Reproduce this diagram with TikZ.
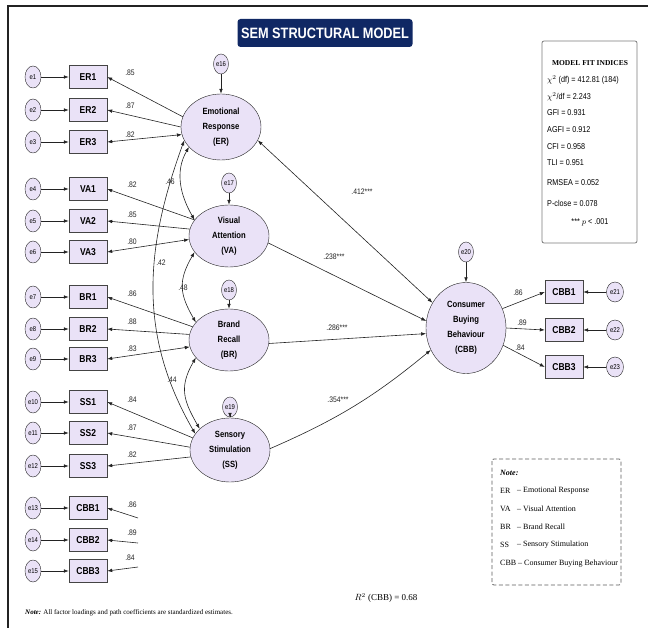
\documentclass[tikz,border=0pt]{standalone}
\usepackage{fontspec}
\setmainfont{Liberation Serif}
\newfontfamily\nsans[FakeStretch=0.85]{Liberation Sans}
\usetikzlibrary{arrows.meta,shapes.geometric}
\definecolor{lav}{RGB}{234,226,247}
\definecolor{navy}{RGB}{16,40,100}
\definecolor{ln}{RGB}{35,35,35}
\begin{document}
\begin{tikzpicture}[x=1pt,y=1pt,
  ev/.style={draw=ln, fill=lav, ellipse, minimum width=16pt, minimum height=22pt, inner sep=0pt, font=\nsans\fontsize{7}{8}\selectfont},
  evs/.style={ev, minimum width=15pt, minimum height=20pt},
  ind/.style={draw=ln!85, fill=lav, rectangle, minimum width=38pt, minimum height=23pt, inner sep=0pt, font=\nsans\bfseries\fontsize{10}{11}\selectfont},
  lat/.style={draw=ln, fill=lav, ellipse, minimum width=80pt, minimum height=62pt, inner sep=0pt, align=center, font=\nsans\bfseries\fontsize{9}{15}\selectfont},
  lbl/.style={font=\nsans\fontsize{8}{9}\selectfont, inner sep=1pt, text=ln},
  tip/.style={draw=ln, line width=0.6pt, -{Latex[length=5pt,width=3.6pt]}},
  dtip/.style={draw=ln, line width=0.6pt, {Latex[length=5pt,width=3.6pt]}-{Latex[length=5pt,width=3.6pt]}},
  fittxt/.style={anchor=west, font=\nsans\fontsize{8.5}{9}\selectfont, inner sep=0pt},
  notetxt/.style={anchor=west, font=\fontsize{8}{9}\selectfont, inner sep=0pt}
]
\useasboundingbox (0,0) rectangle (648,-628);
% frame
\draw[ln, line width=1.3pt] (648,-6) -- (8,-6) -- (8,-628);
% title
\node[fill=navy, rounded corners=3pt, minimum width=175pt, minimum height=28pt, inner sep=0pt, text=white, font=\nsans\bfseries\fontsize{15}{16}\selectfont] (title) at (325,-33) {SEM STRUCTURAL MODEL};

% latent variables
\node[lat, minimum height=66pt] (ER) at (221,-127) {Emotional\\Response\\(ER)};
\node[lat] (VA) at (229,-236) {Visual\\Attention\\(VA)};
\node[lat] (BR) at (229,-340) {Brand\\Recall\\(BR)};
\node[lat, minimum height=64pt] (SS) at (230,-450) {Sensory\\Stimulation\\(SS)};
\node[lat, minimum width=80pt, minimum height=91pt] (CBB) at (466,-328) {Consumer\\Buying\\Behaviour\\(CBB)};

% disturbances
\node[evs] (e16) at (221,-64) {e16};
\node[evs] (e17) at (229,-183) {e17};
\node[evs] (e18) at (229,-290) {e18};
\node[evs] (e19) at (230,-407) {e19};
\node[evs] (e20) at (466,-252) {e20};
\draw[tip] (e16) -- (ER);
\draw[tip] (e17) -- (VA);
\draw[tip] (e18) -- (BR);
\draw[tip] (e19) -- (SS);
\draw[tip] (e20) -- (CBB);

% left indicators
\foreach \n/\lab/\y/\e in {ER1/ER1/77/e1, ER2/ER2/110/e2, ER3/ER3/142/e3,
  VA1/VA1/189/e4, VA2/VA2/221/e5, VA3/VA3/252/e6,
  BR1/BR1/297/e7, BR2/BR2/329/e8, BR3/BR3/359/e9,
  SS1/SS1/402/e10, SS2/SS2/433/e11, SS3/SS3/466/e12,
  CBBa1/CBB1/508/e13, CBBa2/CBB2/540/e14, CBBa3/CBB3/571/e15}{
  \node[ind] (\n) at (88,-\y) {\lab};
  \node[ev] (\e) at (33,-\y) {\e};
  \draw[tip] (\e) -- (\n);
}

% loadings
\draw[tip] (ER.165) -- (ER1.east);
\draw[tip] (ER.180) -- (ER2.east);
\draw[dtip] (ER3.east) -- (ER.191);
\draw[tip] (VA.155) -- (VA1.east);
\draw[tip] (VA.170) -- (VA2.east);
\draw[dtip] (VA3.east) -- (VA.185);
\draw[tip] (BR.160) -- (BR1.east);
\draw[tip] (BR.172) -- (BR2.east);
\draw[dtip] (BR3.east) -- (BR.190);
\draw[tip] (SS.162) -- (SS1.east);
\draw[tip] (SS.176) -- (SS2.east);
\draw[tip] (SS.190) -- (SS3.east);

\node[lbl] at (130,-73) {.85};
\node[lbl] at (130,-106) {.87};
\node[lbl] at (130,-135) {.82};
\node[lbl] at (132,-185) {.82};
\node[lbl] at (132,-215) {.85};
\node[lbl] at (132,-242) {.80};
\node[lbl] at (132,-294) {.86};
\node[lbl] at (132,-322) {.88};
\node[lbl] at (132,-349) {.83};
\node[lbl] at (132,-400) {.84};
\node[lbl] at (132,-428) {.87};
\node[lbl] at (132,-455) {.82};

% dangling CBB loadings on the left
\coordinate (d1) at (138,-518);
\coordinate (d2) at (138,-543);
\coordinate (d3) at (138,-567);
\draw[tip] (d1) -- (CBBa1.east);
\draw[tip] (d2) -- (CBBa2.east);
\draw[tip] (d3) -- (CBBa3.east);
\node[lbl] at (132,-505) {.86};
\node[lbl] at (132,-533) {.89};
\node[lbl] at (130,-558) {.84};

% covariances
\draw[dtip] (ER.212) to[out=240,in=120] (VA.155);
\draw[dtip] (ER.200) to[out=250,in=120] (SS.155);
\draw[dtip] (VA.205) to[out=240,in=120,looseness=1.2] (BR.152);
\draw[dtip] (BR.208) to[out=240,in=120,looseness=1.2] (SS.145);
\node[lbl] at (170,-182) {.46};
\node[lbl] at (161,-263) {.42};
\node[lbl] at (183,-288) {.48};
\node[lbl] at (172,-380) {.44};

% structural paths
\draw[dtip] (ER.340) -- (CBB.143);
\draw[tip] (VA.350) -- (CBB.170);
\draw[tip] (BR.355) -- (CBB.188);
\draw[tip] (SS.2) to[bend right=8] (CBB.212);
\node[lbl] at (362,-192) {.412***};
\node[lbl] at (334,-257) {.238***};
\node[lbl] at (337,-328) {.286***};
\node[lbl] at (338,-400) {.354***};

% right indicators
\foreach \n/\lab/\y/\e in {CBBb1/CBB1/292/e21, CBBb2/CBB2/330/e22, CBBb3/CBB3/367/e23}{
  \node[ind] (\n) at (564,-\y) {\lab};
  \node[ev, minimum width=17pt, minimum height=20pt] (\e) at (615,-\y) {\e};
  \draw[tip] (\e) -- (\n);
}
\draw[tip] (CBB.28) -- (CBBb1.west);
\draw[tip] (CBB.0) -- (CBBb2.west);
\draw[tip] (CBB.335) -- (CBBb3.west);
\node[lbl] at (518,-293) {.86};
\node[lbl] at (522,-323) {.89};
\node[lbl] at (520,-348) {.84};

% model fit box
\node[draw=ln!60, line width=0.8pt, rounded corners=2pt, minimum width=95pt, minimum height=202pt, inner sep=0pt] (fit) at (589.5,-142) {};
\node[font=\bfseries\fontsize{7.5}{8}\selectfont, inner sep=0pt] (fith) at (590,-63) {MODEL FIT INDICES};
\node[fittxt] (f1) at (547,-80) {$\chi^2$ (df) = 412.81 (184)};
\node[fittxt] (f2) at (547,-97) {$\chi^2$/df = 2.243};
\node[fittxt] (f3) at (547,-113) {GFI = 0.931};
\node[fittxt] (f4) at (547,-130) {AGFI = 0.912};
\node[fittxt] (f5) at (547,-147) {CFI = 0.958};
\node[fittxt] (f6) at (547,-163) {TLI = 0.951};
\node[fittxt] (f7) at (547,-183) {RMSEA = 0.052};
\node[fittxt] (f8) at (547,-203) {P-close = 0.078};
\node[font=\nsans\fontsize{8.5}{9}\selectfont, inner sep=0pt] (f9) at (590,-222) {*** $p$ < .001};

% note box
\draw[ln!75, line width=0.8pt, dash pattern=on 4pt off 2.5pt, rounded corners=2pt] (492,-459) rectangle (621,-585);
\node[notetxt, font=\bfseries\itshape\fontsize{8}{9}\selectfont] (nt) at (500,-473) {Note:};
\node[notetxt] (a1) at (500,-491) {ER};
\node[notetxt] (b1) at (517,-491) {-- Emotional Response};
\node[notetxt] (a2) at (500,-509) {VA};
\node[notetxt] (b2) at (517,-509) {-- Visual Attention};
\node[notetxt] (a3) at (500,-527) {BR};
\node[notetxt] (b3) at (517,-527) {-- Brand Recall};
\node[notetxt] (a4) at (500,-545) {SS};
\node[notetxt] (b4) at (517,-545) {-- Sensory Stimulation};
\node[notetxt] (a5) at (500,-564) {CBB -- Consumer Buying Behaviour};

% R2 and bottom note
\node[font=\fontsize{9}{10}\selectfont, inner sep=0pt] (r2) at (386,-598) {$R^2$ (CBB) = 0.68};
\node[anchor=west, font=\fontsize{7}{8}\selectfont, inner sep=0pt] (bn) at (25,-613) {\textbf{\textit{Note:}} All factor loadings and path coefficients are standardized estimates.};
\end{tikzpicture}
\end{document}
